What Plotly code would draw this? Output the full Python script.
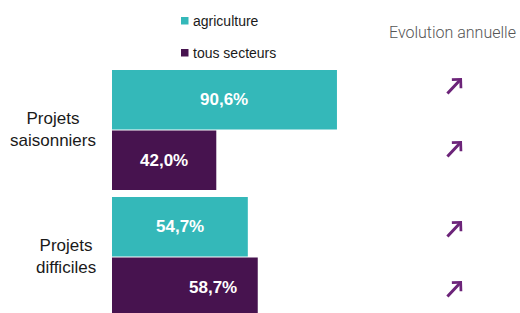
import plotly.graph_objects as go

categories = ["Projets<br>saisonniers", "Projets<br>difficiles"]
series_names = ["agriculture", "tous secteurs"]
agriculture = [90.6, 54.7]
tous_secteurs = [42.0, 58.7]
evolution = ["hausse", "hausse", "hausse", "hausse"]  # agri1, tous1, agri2, tous2
evolution_title = "Evolution annuelle"

TEAL = "#34b8b9"
PURPLE = "#47134f"
ARROW = "#6c2479"
FONT = "Liberation Sans, Arial, sans-serif"

W, H = 520, 313
L, T, R, B = 112, 70, 0, 0
PW, PH = W - L - R, H - T - B


def px(x):
    return (x - L) / PW


def py(y):
    return (H - B - y) / PH


def fmt(v):
    return f"{v:.1f}".replace(".", ",") + "%"


fig = go.Figure()
for name, vals, col in [(series_names[0], agriculture, TEAL), (series_names[1], tous_secteurs, PURPLE)]:
    fig.add_trace(go.Bar(
        y=categories, x=vals, orientation="h", name=name,
        marker=dict(color=col, line=dict(width=0)), showlegend=False,
        hoverinfo="skip",
    ))

annotations = []
label_frac = [[0.5, 0.5], [0.5, 0.69]]
off = 0.238
for i in range(len(categories)):
    for j, vals in enumerate([agriculture, tous_secteurs]):
        annotations.append(dict(
            x=vals[i] * label_frac[j][i], y=i + (-off if j == 0 else off),
            xref="x", yref="y", text=f"<b>{fmt(vals[i])}</b>", showarrow=False,
            font=dict(family=FONT, size=17, color="white"),
            xanchor="center", yanchor="middle",
        ))

for i, c in enumerate(categories):
    annotations.append(dict(
        x=px(98), y=i, xref="paper", yref="y", text=c, showarrow=False,
        xanchor="right", yanchor="middle", align="center",
        font=dict(family=FONT, size=17, color="#1a1a1a"),
    ))

shapes = []
for k, (name, col) in enumerate(zip(series_names, [TEAL, PURPLE])):
    yc = 21 + 32 * k
    shapes.append(dict(type="rect", xref="paper", yref="paper",
                       x0=px(181), x1=px(188.5), y0=py(yc - 4), y1=py(yc + 3.5),
                       fillcolor=col, line=dict(width=0)))
    annotations.append(dict(
        x=px(191), y=py(yc), xref="paper", yref="paper", text=name, showarrow=False,
        xanchor="left", yanchor="middle",
        font=dict(family=FONT, size=14, color="#1a1a1a"),
    ))

annotations.append(dict(
    x=px(518), y=py(32), xref="paper", yref="paper", text=evolution_title,
    showarrow=False, xanchor="right", yanchor="middle",
    font=dict(family="Roboto", size=16, color="#555555", weight=300),
))

tips = [78, 141, 221, 281]
for yt, ev in zip(tips, evolution):
    annotations.append(dict(
        x=px(462), y=py(yt), xref="paper", yref="paper", text="",
        showarrow=True, ax=-16, ay=17, arrowhead=4, arrowwidth=3,
        arrowsize=0.8, arrowcolor=ARROW,
    ))

fig.update_layout(
    width=W, height=H, margin=dict(l=L, r=R, t=T, b=B, autoexpand=False),
    barmode="group", bargap=0.047, bargroupgap=0.016,
    paper_bgcolor="white", plot_bgcolor="white",
    xaxis=dict(range=[0, PW / 2.483], visible=False, fixedrange=True),
    yaxis=dict(range=[1.441, -0.472], showticklabels=False, showgrid=False,
               zeroline=False, showline=False, ticks="", fixedrange=True),
    annotations=annotations, shapes=shapes, showlegend=False,
)

fig.write_html(
    "out.html",
    config={"displayModeBar": False},
    post_script="document.body.style.margin='0';document.body.style.overflow='hidden';",
)
